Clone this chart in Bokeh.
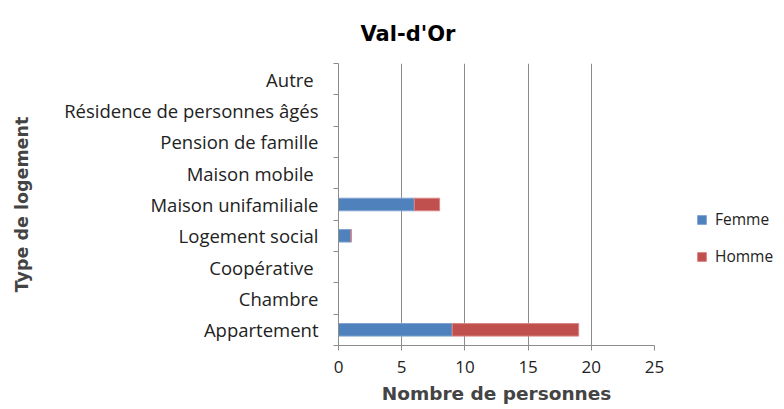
from bokeh.plotting import figure
from bokeh.models import Legend, LegendItem, FixedTicker, Range1d, ColumnDataSource
from bokeh.embed import file_html
from bokeh.resources import INLINE

categories = ["Appartement", "Chambre", "Coopérative ", "Logement social", "Maison unifamiliale",
              "Maison mobile ", "Pension de famille", "Résidence de personnes âgés", "Autre "]
femme = [9, 0, 0, 1, 6, 0, 0, 0, 0]
homme = [10, 0, 0, 0, 2, 0, 0, 0, 0]
x_ticks = [0, 5, 10, 15, 20, 25]

n = len(categories)
centers = [i + 0.5 for i in range(n)]
bounds = list(range(n + 1))

p = figure(frame_width=316, frame_height=282, y_range=Range1d(0, n), x_range=Range1d(0, 25),
           output_backend="svg", toolbar_location=None,
           min_border_left=338, min_border_right=122, min_border_top=63, min_border_bottom=5)
p.outline_line_color = None
p.background_fill_color = "white"

src = ColumnDataSource(dict(y=centers, Femme=femme, Homme=homme))
rs = p.hbar_stack(["Femme", "Homme"], y="y", height=0.4, color=["#4F81BD", "#C0504D"],
                  line_color=["#7FA3D0", "#D98583"], line_width=1, source=src)

p.title.text = "Val-d'Or"
p.title.align = "left"
p.title.offset = 22
p.title.text_font = "DejaVu Sans"
p.title.text_font_size = "21px"
p.title.text_font_style = "bold"
p.title.text_color = "#000000"
p.title.standoff = 36

LABEL_FONT = "Open Sans"

p.xaxis.ticker = FixedTicker(ticks=x_ticks)
p.xaxis.axis_label = "Nombre de personnes"
p.xaxis.axis_label_text_font = "DejaVu Sans"
p.xaxis.axis_label_text_font_style = "bold"
p.xaxis.axis_label_text_font_size = "18.5px"
p.xaxis.axis_label_standoff = 7
p.xaxis.major_label_text_font = LABEL_FONT
p.xaxis.major_label_text_font_size = "17px"
p.xaxis.major_label_text_color = "#222222"
p.xaxis.major_label_standoff = 10
p.xaxis.axis_line_color = "#8c8c8c"
p.xaxis.major_tick_line_color = "#8c8c8c"
p.xaxis.major_tick_in = 0
p.xaxis.major_tick_out = 5
p.xaxis.minor_tick_line_color = None

p.yaxis.ticker = FixedTicker(ticks=centers, minor_ticks=bounds)
p.yaxis.major_label_overrides = {c: lab for c, lab in zip(centers, categories)}
p.yaxis.axis_label = "Type de logement"
p.yaxis.axis_label_text_font = "DejaVu Sans"
p.yaxis.axis_label_text_font_style = "bold"
p.yaxis.axis_label_text_font_size = "17.5px"
p.yaxis.axis_label_standoff = 29
p.yaxis.major_label_text_font = LABEL_FONT
p.yaxis.major_label_text_font_size = "18.5px"
p.yaxis.major_label_text_color = "#222222"
p.yaxis.major_label_standoff = 15
p.yaxis.axis_line_color = "#8c8c8c"
p.yaxis.major_tick_line_color = None
p.yaxis.major_tick_out = 0
p.yaxis.major_tick_in = 0
p.yaxis.minor_tick_line_color = "#8c8c8c"
p.yaxis.minor_tick_out = 5
p.yaxis.minor_tick_in = 0

p.xgrid.ticker = FixedTicker(ticks=x_ticks)
p.xgrid.grid_line_color = "#8c8c8c"
p.xgrid.grid_line_width = 1
p.ygrid.grid_line_color = None

legend = Legend(items=[LegendItem(label="Femme", renderers=[rs[0]]),
                       LegendItem(label="Homme", renderers=[rs[1]])],
                location=(42, 78), orientation="vertical")
legend.label_text_font = LABEL_FONT
legend.label_text_font_size = "15.5px"
legend.label_text_color = "#222222"
legend.glyph_width = 11
legend.glyph_height = 11
legend.spacing = 15
legend.padding = 0
legend.margin = 0
legend.label_standoff = 8
legend.border_line_color = None
legend.background_fill_alpha = 0
p.add_layout(legend, "right")

open("out.html", "w").write(file_html(p, INLINE))
